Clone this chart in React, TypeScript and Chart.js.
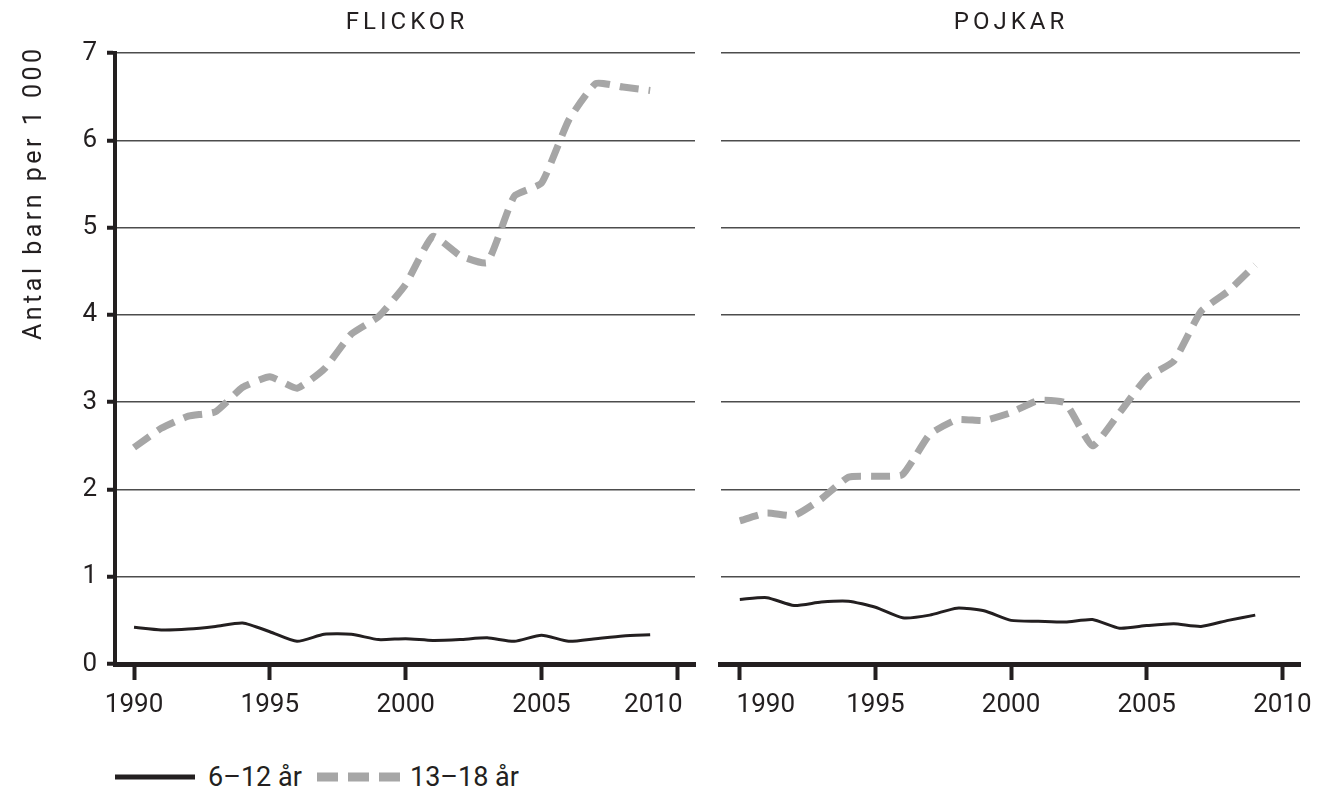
import React, { useEffect, useRef } from "react";
import { Chart, registerables } from "chart.js";

Chart.register(...registerables);

// ---- data ----
const years = [1990, 1991, 1992, 1993, 1994, 1995, 1996, 1997, 1998, 1999, 2000, 2001, 2002, 2003, 2004, 2005, 2006, 2007, 2008, 2009];
const tickYears = [1990, 1995, 2000, 2005, 2010];
const yTicks = [0, 1, 2, 3, 4, 5, 6, 7];

const flickor612 = [0.42, 0.39, 0.4, 0.43, 0.47, 0.37, 0.26, 0.34, 0.34, 0.28, 0.29, 0.27, 0.28, 0.3, 0.26, 0.33, 0.26, 0.29, 0.32, 0.335];
const flickor1318 = [2.48, 2.7, 2.84, 2.89, 3.17, 3.29, 3.16, 3.38, 3.78, 3.98, 4.35, 4.9, 4.68, 4.6, 5.36, 5.51, 6.23, 6.65, 6.61, 6.57];
const pojkar612 = [0.74, 0.76, 0.67, 0.71, 0.72, 0.65, 0.53, 0.56, 0.64, 0.61, 0.5, 0.49, 0.48, 0.51, 0.41, 0.44, 0.46, 0.43, 0.5, 0.56];
const pojkar1318 = [1.64, 1.73, 1.7, 1.89, 2.14, 2.15, 2.17, 2.63, 2.8, 2.79, 2.88, 3.02, 2.99, 2.5, 2.88, 3.28, 3.47, 4.04, 4.27, 4.57];

const seriesLabels = ["6–12 år", "13–18 år"];
const panelTitles = ["FLICKOR", "POJKAR"];
const yTitle = "Antal barn per 1 000";

// ---- style ----
const FONT = "Roboto, 'Noto Sans', sans-serif";
const INK = "#231f20";
const GREY = "#a6a6a6";
const GRID = "#4d4d4d";
const CANVAS_H = 735;
const PLOT_TOP = 53;
const PLOT_BOTTOM = 664;

// nudges edge tick labels inward so neighbouring panels' labels do not collide
const edgeLabelShift = {
  id: "edgeLabelShift",
  beforeDraw(chart: any) {
    const shifts = chart.options.plugins?.edgeLabelShift?.shifts || {};
    const s = chart.scales.x;
    if (!s) return;
    const items = s.getLabelItems();
    Object.keys(shifts).forEach((k) => {
      const it = items[Number(k)];
      if (it && !it._shifted) {
        it.options.translation[0] += shifts[k];
        it._shifted = true;
      }
    });
  },
};

type PanelProps = {
  young: number[];
  old: number[];
  showY: boolean;
  left: number;
  width: number;
  padLeft: number;
  padRight: number;
  yWidth: number;
  shifts: Record<number, number>;
};

function Panel({ young, old, showY, left, width, padLeft, padRight, yWidth, shifts }: PanelProps) {
  const ref = useRef<HTMLCanvasElement>(null);
  useEffect(() => {
    const chart = new Chart(ref.current as HTMLCanvasElement, {
      type: "line",
      data: {
        datasets: [
          {
            label: seriesLabels[1],
            data: years.map((x, i) => ({ x, y: old[i] })),
            borderColor: GREY,
            borderWidth: 7,
            borderDash: [19, 10],
            borderCapStyle: "butt",
            borderJoinStyle: "round",
            pointRadius: 0,
            tension: 0.15,
            fill: false,
          },
          {
            label: seriesLabels[0],
            data: years.map((x, i) => ({ x, y: young[i] })),
            borderColor: INK,
            borderWidth: 3,
            borderJoinStyle: "round",
            pointRadius: 0,
            tension: 0.2,
            fill: false,
          },
        ],
      },
      plugins: [edgeLabelShift],
      options: {
        responsive: false,
        animation: false,
        events: [],
        layout: { padding: { top: PLOT_TOP, left: padLeft, right: padRight, bottom: 0 } },
        plugins: {
          legend: { display: false },
          tooltip: { enabled: false },
          title: { display: false },
          edgeLabelShift: { shifts },
        },
        scales: {
          x: {
            type: "linear",
            min: 1989.3,
            max: 2010.65,
            afterBuildTicks: (s: any) => {
              s.ticks = tickYears.map((v) => ({ value: v }));
            },
            afterFit: (s: any) => {
              s.height = CANVAS_H - PLOT_BOTTOM;
            },
            grid: {
              display: true,
              drawOnChartArea: false,
              drawTicks: true,
              tickLength: 16,
              tickWidth: 4,
              tickColor: INK,
            },
            border: { display: true, width: 5, color: INK },
            ticks: {
              callback: (v: any) => String(v),
              font: { family: FONT, size: 26 },
              color: INK,
              padding: 10,
              maxRotation: 0,
              autoSkip: false,
            },
          },
          y: {
            type: "linear",
            min: 0,
            max: 7,
            afterBuildTicks: (s: any) => {
              s.ticks = yTicks.map((v) => ({ value: v }));
            },
            afterFit: (s: any) => {
              s.width = yWidth;
            },
            grid: {
              color: GRID,
              lineWidth: 1.5,
              drawTicks: showY,
              tickLength: 8,
              tickWidth: 4,
              tickColor: INK,
            },
            border: { display: showY, width: 4, color: INK },
            ticks: {
              display: showY,
              callback: (v: any) => String(v),
              font: { family: FONT, size: 26 },
              color: INK,
              padding: 10,
            },
          },
        },
      },
    } as any);
    return () => chart.destroy();
  }, []);
  return (
    <canvas
      ref={ref}
      width={width}
      height={CANVAS_H}
      style={{ position: "absolute", left, top: 0, width, height: CANVAS_H }}
    />
  );
}

const titleStyle: React.CSSProperties = {
  position: "absolute",
  width: 400,
  top: 6,
  textAlign: "center",
  fontSize: 24,
  lineHeight: "30px",
  letterSpacing: 4,
  paddingLeft: 4,
  boxSizing: "border-box",
};

export default function App() {
  return (
    <div
      style={{
        position: "absolute",
        left: 0,
        top: 0,
        width: 1317,
        height: 792,
        background: "#fff",
        fontFamily: FONT,
        color: INK,
        overflow: "hidden",
      }}
    >
      <Panel young={flickor612} old={flickor1318} showY={true} left={0} width={745} padLeft={0} padRight={50} yWidth={115} shifts={{ 4: -24 }} />
      <Panel young={pojkar612} old={pojkar1318} showY={false} left={700} width={650} padLeft={18} padRight={50} yWidth={0} shifts={{ 0: 26 }} />

      <div style={{ ...titleStyle, left: 205 }}>{panelTitles[0]}</div>
      <div style={{ ...titleStyle, left: 809 }}>{panelTitles[1]}</div>

      <div
        style={{
          position: "absolute",
          left: 20,
          top: 340,
          transformOrigin: "left top",
          transform: "rotate(-90deg)",
          whiteSpace: "nowrap",
          fontSize: 25,
          lineHeight: "26px",
          letterSpacing: 3.5,
        }}
      >
        {yTitle}
      </div>

      <svg style={{ position: "absolute", left: 115, top: 767, overflow: "visible" }} width={300} height={20}>
        <line x1={0} y1={10} x2={80} y2={10} stroke={INK} strokeWidth={5} />
        <line x1={202} y1={10} x2={285} y2={10} stroke={GREY} strokeWidth={9} strokeDasharray="21 10" />
      </svg>
      <div style={{ position: "absolute", left: 208, top: 762, fontSize: 27, lineHeight: "30px", whiteSpace: "nowrap" }}>
        {seriesLabels[0]}
      </div>
      <div style={{ position: "absolute", left: 410, top: 762, fontSize: 27, lineHeight: "30px", whiteSpace: "nowrap" }}>
        {seriesLabels[1]}
      </div>
    </div>
  );
}
